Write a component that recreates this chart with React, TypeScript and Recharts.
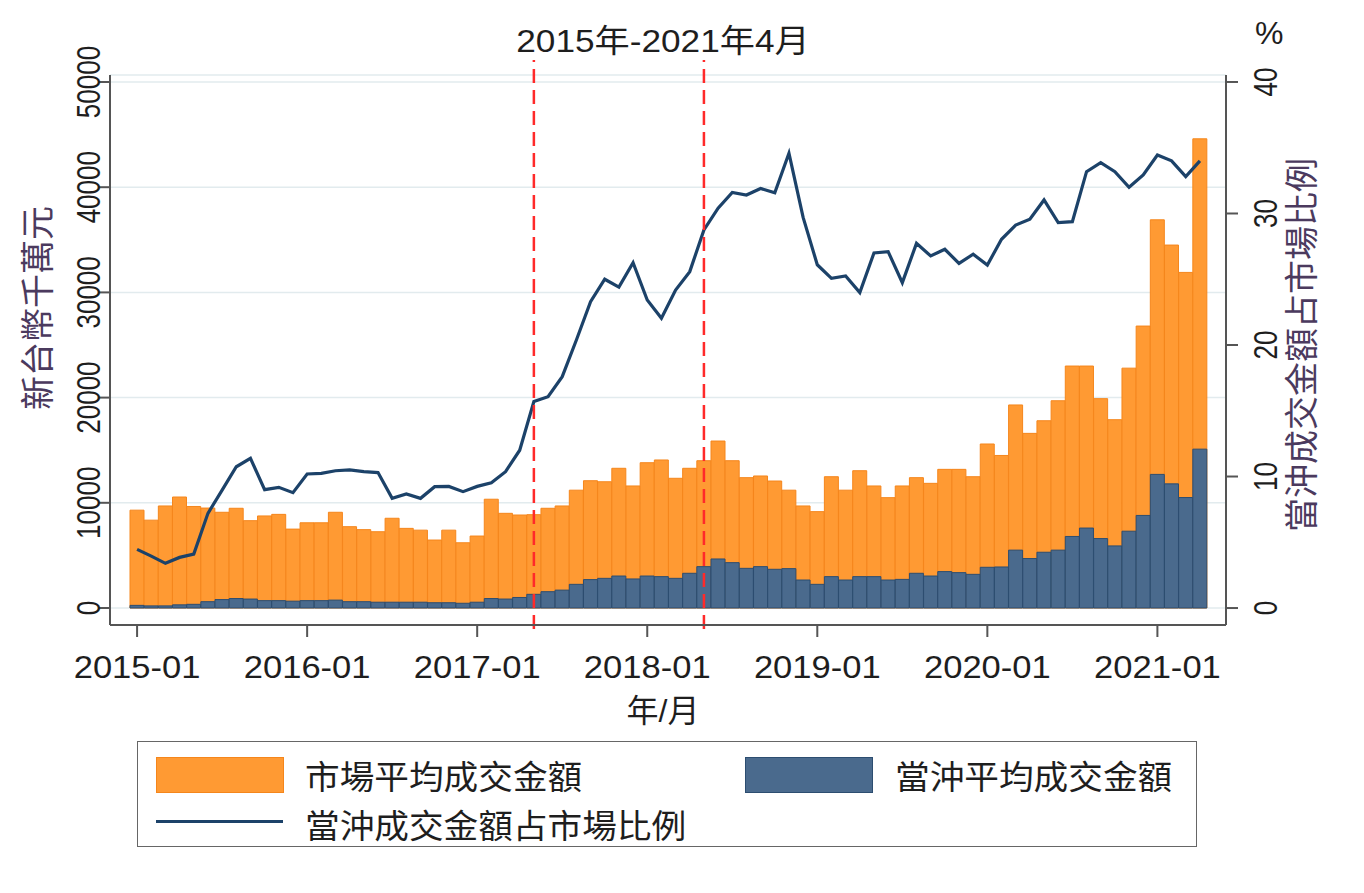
import React from 'react';
import { ComposedChart, Bar, Line, XAxis, YAxis, CartesianGrid, ReferenceLine } from 'recharts';

const months = [
  '2015-01', '2015-02', '2015-03', '2015-04', '2015-05', '2015-06', '2015-07', '2015-08', '2015-09', '2015-10', '2015-11', '2015-12',
  '2016-01', '2016-02', '2016-03', '2016-04', '2016-05', '2016-06', '2016-07', '2016-08', '2016-09', '2016-10', '2016-11', '2016-12',
  '2017-01', '2017-02', '2017-03', '2017-04', '2017-05', '2017-06', '2017-07', '2017-08', '2017-09', '2017-10', '2017-11', '2017-12',
  '2018-01', '2018-02', '2018-03', '2018-04', '2018-05', '2018-06', '2018-07', '2018-08', '2018-09', '2018-10', '2018-11', '2018-12',
  '2019-01', '2019-02', '2019-03', '2019-04', '2019-05', '2019-06', '2019-07', '2019-08', '2019-09', '2019-10', '2019-11', '2019-12',
  '2020-01', '2020-02', '2020-03', '2020-04', '2020-05', '2020-06', '2020-07', '2020-08', '2020-09', '2020-10', '2020-11', '2020-12',
  '2021-01', '2021-02', '2021-03', '2021-04',
];

// 市場平均成交金額 (新台幣千萬元)
const marketAvg = [
  9300, 8350, 9700, 10550, 9650, 9500, 9100, 9480, 8300, 8750, 8900, 7500,
  8100, 8100, 9100, 7730, 7450, 7250, 8530, 7570, 7400, 6460, 7400, 6200,
  6840, 10340, 9000, 8840, 8870, 9480, 9700, 11200, 12100, 12000, 13280, 11600,
  13810, 14070, 12330, 13280, 14000, 15870, 14000, 12390, 12550, 12070, 11200, 9700,
  9160, 12480, 11200, 13050, 11600, 10490, 11600, 12390, 11850, 13180, 13180, 12480,
  15590, 14500, 19300, 16600, 17800, 19700, 23000, 23000, 19900, 17900, 22800, 26800,
  36900, 34500, 31900, 44600,
];

// 當沖平均成交金額 (新台幣千萬元)
const dayTradeAvg = [
  250, 200, 200, 300, 350, 600, 800, 900, 850, 700, 700, 650,
  700, 700, 750, 600, 600, 550, 550, 550, 550, 500, 500, 450,
  550, 900, 850, 1000, 1300, 1550, 1700, 2250, 2700, 2820, 3040, 2760,
  3040, 2980, 2820, 3300, 3930, 4660, 4310, 3770, 3930, 3680, 3740, 2660,
  2250, 2980, 2660, 2980, 2980, 2660, 2720, 3300, 3040, 3460, 3360, 3200,
  3870, 3900, 5500, 4700, 5300, 5500, 6800, 7600, 6600, 5900, 7300, 8800,
  12700, 11800, 10500, 15100,
];

// 當沖成交金額占市場比例 (%)
const dayTradeShare = [
  4.46, 3.95, 3.4, 3.85, 4.1, 7.2, 8.97, 10.74, 11.38, 9.0, 9.18, 8.77,
  10.19, 10.24, 10.44, 10.5, 10.37, 10.3, 8.34, 8.67, 8.34, 9.23, 9.25, 8.85,
  9.25, 9.53, 10.37, 12.0, 15.7, 16.07, 17.59, 20.38, 23.3, 25.0, 24.4, 26.26,
  23.42, 22.03, 24.18, 25.58, 28.75, 30.4, 31.6, 31.4, 31.9, 31.58, 34.58, 29.7,
  26.1, 25.07, 25.25, 23.98, 27.0, 27.1, 24.74, 27.73, 26.77, 27.28, 26.2, 26.9,
  26.08, 28.04, 29.12, 29.56, 31.03, 29.3, 29.38, 33.18, 33.86, 33.18, 31.99, 32.93,
  34.45, 34.0, 32.8, 34.0,
];

const leftTicks = [0, 10000, 20000, 30000, 40000, 50000];
const rightTicks = [0, 10, 20, 30, 40];
const markers = ['2017-05', '2018-05'];

const data = months.map((m, i) => ({
  month: m,
  market: marketAvg[i],
  dayTrade: dayTradeAvg[i],
  share: dayTradeShare[i],
}));

const NUM_FONT = "'Liberation Sans', Arial, sans-serif";
const CJK_FONT = "'Liberation Sans', 'Noto Sans CJK TC', sans-serif";
const ORANGE = '#FF9A33';
const ORANGE_EDGE = '#F5861C';
const BLUE = '#4A6A8D';
const BLUE_EDGE = '#2C4D70';
const NAVY = '#1C4269';
const AXIS = '#555555';
const LABEL = '#4B3A5E';
const INK = '#1e1e1e';

// the source image is a bit wider than tall, so the text is stretched sideways
const XTick = ({ x, y, payload }: any) => (
  <g transform={`translate(${x},${y}) scale(1.08,1)`}>
    <text x={0} y={0} dy="0.71em" textAnchor="middle" fontSize={32} fontFamily={NUM_FONT} fill={INK}>
      {payload.value}
    </text>
  </g>
);

const LeftTick = ({ x, y, payload }: any) => (
  <g transform={`translate(${x + 4},${y}) scale(1.25,1) rotate(-90)`}>
    <text x={0} y={0} textAnchor="middle" fontSize={26} fontFamily={NUM_FONT} fill={INK}>
      {payload.value}
    </text>
  </g>
);

const RightTick = ({ x, y, payload }: any) => (
  <g transform={`translate(${x + 37},${y}) scale(1.25,1) rotate(-90)`}>
    <text x={0} y={0} textAnchor="middle" fontSize={26} fontFamily={NUM_FONT} fill={INK}>
      {payload.value}
    </text>
  </g>
);

function LegendBox() {
  const swatch = { position: 'absolute' as const, width: 126, height: 34 };
  const text = {
    position: 'absolute' as const, fontSize: 33, fontFamily: CJK_FONT, color: INK, lineHeight: '40px',
    whiteSpace: 'nowrap' as const, transform: 'scaleX(1.05)', transformOrigin: 'left center',
  };
  return (
    <div style={{ position: 'absolute', left: 137, top: 741, width: 1060, height: 106, border: '1.5px solid #666', boxSizing: 'border-box', background: '#fff' }}>
      <div style={{ ...swatch, left: 18, top: 15, background: ORANGE, border: `1px solid ${ORANGE_EDGE}` }} />
      <div style={{ ...text, left: 167, top: 16 }}>市場平均成交金額</div>
      <div style={{ ...swatch, left: 607, top: 15, background: BLUE, border: `1px solid ${BLUE_EDGE}` }} />
      <div style={{ ...text, left: 757, top: 16 }}>當沖平均成交金額</div>
      <div style={{ position: 'absolute', left: 18, top: 78, width: 127, height: 3, background: NAVY }} />
      <div style={{ ...text, left: 167, top: 65 }}>當沖成交金額占市場比例</div>
    </div>
  );
}

export default function App() {
  return (
    <div style={{ position: 'absolute', left: 0, top: 0, width: 1364, height: 893, background: '#fff', overflow: 'hidden' }}>
      <ComposedChart width={1364} height={893} data={data}
        margin={{ top: 75, right: 58, bottom: 208, left: 30 }}
        barCategoryGap={0} barGap={0}>
        <CartesianGrid yAxisId="left" vertical={false} stroke="#E2EBEE" strokeWidth={1.5} />
        <XAxis xAxisId="a" dataKey="month" interval={11} height={60}
          padding={{ left: 20, right: 19 }}
          tickSize={12} tickMargin={18}
          axisLine={{ stroke: AXIS, strokeWidth: 2 }} tickLine={{ stroke: AXIS, strokeWidth: 2 }}
          tick={<XTick />} />
        <XAxis xAxisId="b" dataKey="month" hide padding={{ left: 20, right: 19 }} />
        <YAxis yAxisId="left" width={80} domain={[-1616, 50665]} allowDataOverflow
          ticks={leftTicks} interval={0} tickSize={12} tickMargin={2}
          axisLine={{ stroke: AXIS, strokeWidth: 2 }} tickLine={{ stroke: AXIS, strokeWidth: 2 }}
          tick={<LeftTick />} />
        <YAxis yAxisId="right" orientation="right" width={80} domain={[-1.29, 40.53]} allowDataOverflow
          ticks={rightTicks} interval={0} tickSize={12} tickMargin={2}
          axisLine={{ stroke: AXIS, strokeWidth: 2 }} tickLine={{ stroke: AXIS, strokeWidth: 2 }}
          tick={<RightTick />} />
        <Bar xAxisId="a" yAxisId="left" dataKey="market" name="市場平均成交金額"
          fill={ORANGE} stroke={ORANGE_EDGE} strokeWidth={1} isAnimationActive={false} />
        <Bar xAxisId="b" yAxisId="left" dataKey="dayTrade" name="當沖平均成交金額"
          fill={BLUE} stroke={BLUE_EDGE} strokeWidth={1} isAnimationActive={false} />
        <Line xAxisId="a" yAxisId="right" dataKey="share" name="當沖成交金額占市場比例" type="linear"
          stroke={NAVY} strokeWidth={3.2} dot={false} activeDot={false} isAnimationActive={false} />
        {markers.map((m) => (
          <ReferenceLine key={m} xAxisId="a" yAxisId="left" ifOverflow="visible"
            segment={[{ x: m, y: -2000 }, { x: m, y: 52100 }]}
            stroke="#FF2A2A" strokeWidth={2.5} strokeDasharray="14 7" />
        ))}
      </ComposedChart>

      <div style={{ position: 'absolute', left: 413, width: 500, top: 20, textAlign: 'center', fontSize: 32, fontFamily: CJK_FONT, color: INK, lineHeight: '42px', transform: 'scaleX(1.1)' }}>
        2015年-2021年4月
      </div>
      <div style={{ position: 'absolute', left: 1255, top: 12, fontSize: 32, fontFamily: NUM_FONT, color: INK, lineHeight: '42px' }}>%</div>
      <div style={{ position: 'absolute', left: 38, top: 308, transform: 'translate(-50%, -50%) rotate(-90deg)', fontSize: 34, fontFamily: CJK_FONT, color: LABEL, whiteSpace: 'nowrap', lineHeight: '40px' }}>
        新台幣千萬元
      </div>
      <div style={{ position: 'absolute', left: 1302, top: 345, transform: 'translate(-50%, -50%) rotate(-90deg)', fontSize: 34, fontFamily: CJK_FONT, color: LABEL, whiteSpace: 'nowrap', lineHeight: '40px' }}>
        當沖成交金額占市場比例
      </div>
      <div style={{ position: 'absolute', left: 563, width: 200, top: 691, textAlign: 'center', fontSize: 32, fontFamily: CJK_FONT, color: INK, lineHeight: '40px' }}>
        年/月
      </div>
      <LegendBox />
    </div>
  );
}
